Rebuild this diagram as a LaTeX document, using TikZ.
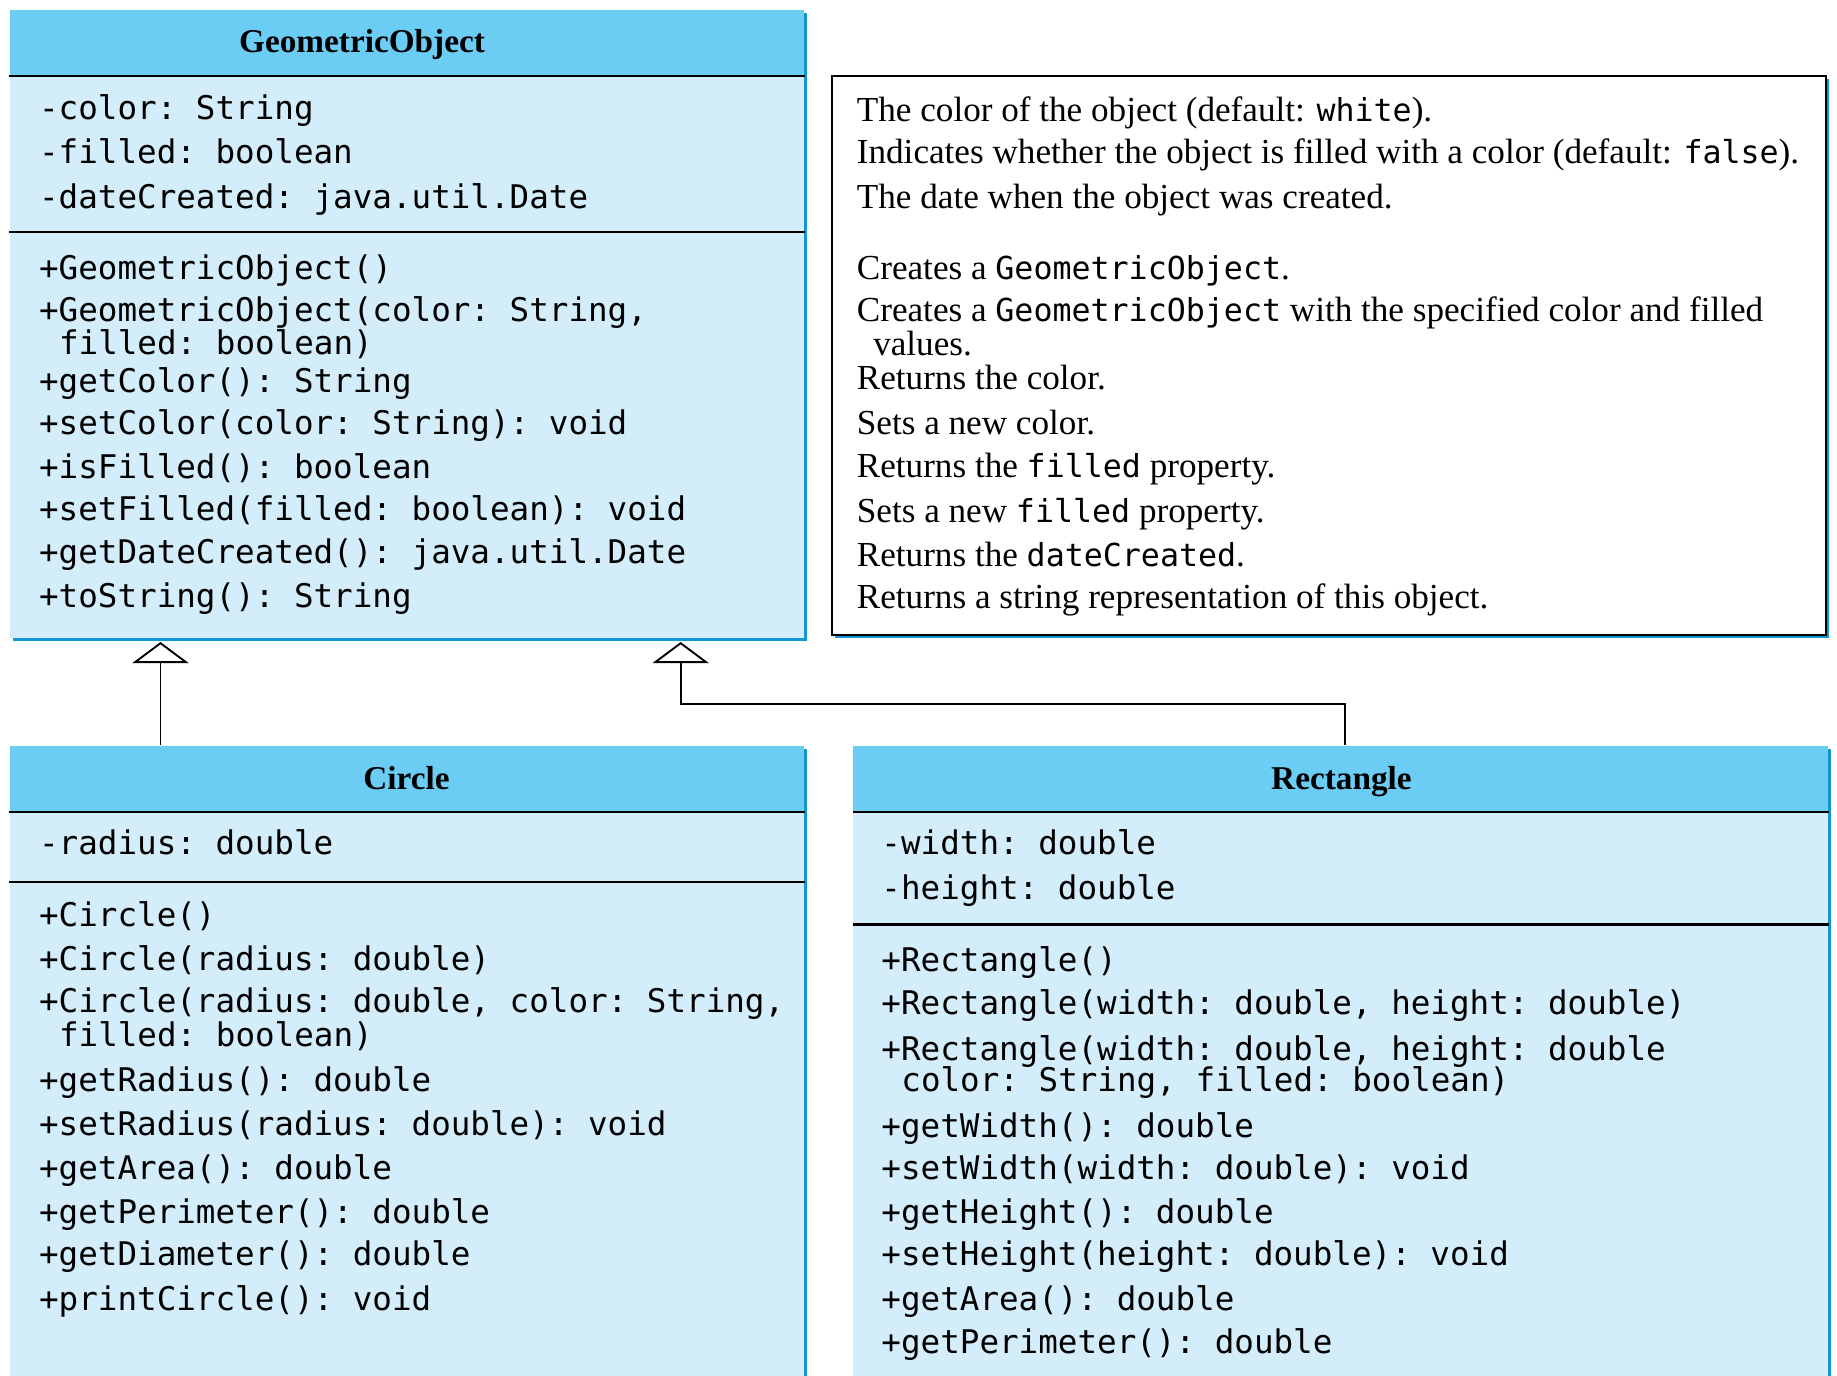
\documentclass[tikz,border=0pt]{standalone}
\usepackage{fontspec}
\setmainfont{Liberation Serif}
\setmonofont{DejaVu Sans Mono}
\usetikzlibrary{arrows.meta,shadows}
\definecolor{hdr}{RGB}{107,205,243}
\definecolor{bdy}{RGB}{211,237,250}
\definecolor{shd}{RGB}{20,150,210}
\newcommand{\inlinemono}[1]{{\fontsize{13.5}{16}\selectfont\ttfamily #1}}
\tikzset{
 boxbody/.style={fill=bdy, draw=none, inner sep=0pt, anchor=north west,
   general shadow={fill=shd, shadow xshift=1.3pt, shadow yshift=-1.3pt}},
 boxhead/.style={fill=hdr, draw=none, inner sep=0pt, anchor=north west},
 sepline/.style={line width=1pt, black},
 mono/.style={font=\fontsize{13.9}{16}\selectfont\ttfamily, inner sep=0pt, anchor=mid west, yshift=-2.5pt},
 desc/.style={font=\fontsize{15}{18}\selectfont, inner sep=0pt, anchor=mid west, yshift=-2.5pt},
 ttl/.style={font=\fontsize{14.2}{17}\selectfont\bfseries, inner sep=0pt, anchor=mid, yshift=-2pt},
 inh/.style={line width=0.8pt, -{Triangle[open, length=9pt, width=24pt, fill=white]}}
}
\begin{document}
\begin{tikzpicture}[x=0.5pt,y=-0.5pt]
\useasboundingbox (0,0) rectangle (1568,1174);
\clip (0,0) rectangle (1568,1174);
% GeometricObject
\node[boxbody, minimum width=339pt, minimum height=268pt] (geo) at (8,8) {};
\node[boxhead, minimum width=339pt, minimum height=28pt] (geoH) at (8,8) {};
\draw[sepline] (geoH.south west) -- (geoH.south east);
\draw[sepline] (geo.west |- 0,198) -- (geo.east |- 0,198);
\node[ttl] (geoT) at (309,36) {GeometricObject};
\foreach \y/\t [count=\i] in {92/{-color: String},130/{-filled: boolean},168/{-dateCreated: java.util.Date}}
  \node[mono] (ga\i) at (33,\y) {\t};
\foreach \x/\y/\t [count=\i] in {33/229/{+GeometricObject()},33/265/{+GeometricObject(color: String,},50/293/{filled: boolean)},33/325/{+getColor(): String},33/361/{+setColor(color: String): void},33/399/{+isFilled(): boolean},33/435/{+setFilled(filled: boolean): void},33/471/{+getDateCreated(): java.util.Date},33/509/{+toString(): String}}
  \node[mono] (gm\i) at (\x,\y) {\t};
% note
\node[draw, line width=0.8pt, fill=white, inner sep=0pt, anchor=north west,
  general shadow={fill=shd, shadow xshift=1.3pt, shadow yshift=-1.3pt},
  minimum width=424.5pt, minimum height=238.5pt] (note) at (709,64) {};
\foreach \x/\y/\t [count=\i] in {731/94/{The color of the object (default: \inlinemono{white}).},731/130/{Indicates whether the object is filled with a color (default: \inlinemono{false}).},731/168/{The date when the object was created.},731/229/{Creates a \inlinemono{GeometricObject}.},731/265/{Creates a \inlinemono{GeometricObject} with the specified color and filled},745/294/{values.},731/323/{Returns the color.},731/361/{Sets a new color.},731/398/{Returns the \inlinemono{filled} property.},731/436/{Sets a new \inlinemono{filled} property.},731/474/{Returns the \inlinemono{dateCreated}.},731/510/{Returns a string representation of this object.}}
  \node[desc] (nt\i) at (\x,\y) {\t};
% Circle
\node[boxbody, minimum width=339pt, minimum height=290pt] (circ) at (8,636) {};
\node[boxhead, minimum width=339pt, minimum height=28pt] (circH) at (8,636) {};
\draw[sepline] (circH.south west) -- (circH.south east);
\draw[sepline] (circ.west |- 0,753) -- (circ.east |- 0,753);
\node[ttl] (circT) at (347,665) {Circle};
\node[mono] (ca1) at (33,720) {-radius: double};
\foreach \x/\y/\t [count=\i] in {33/781/{+Circle()},33/819/{+Circle(radius: double)},33/855/{+Circle(radius: double, color: String,},50/884/{filled: boolean)},33/922/{+getRadius(): double},33/960/{+setRadius(radius: double): void},33/997/{+getArea(): double},33/1035/{+getPerimeter(): double},33/1071/{+getDiameter(): double},33/1109/{+printCircle(): void}}
  \node[mono] (cm\i) at (\x,\y) {\t};
% Rectangle
\node[boxbody, minimum width=416pt, minimum height=290pt] (rect) at (728,636) {};
\node[boxhead, minimum width=416pt, minimum height=28pt] (rectH) at (728,636) {};
\draw[sepline] (rectH.south west) -- (rectH.south east);
\draw[sepline] (rect.west |- 0,789) -- (rect.east |- 0,789);
\node[ttl] (rectT) at (1145,665) {Rectangle};
\node[mono] (ra1) at (752,720) {-width: double};
\node[mono] (ra2) at (752,758) {-height: double};
\foreach \x/\y/\t [count=\i] in {752/820/{+Rectangle()},752/856/{+Rectangle(width: double, height: double)},752/896/{+Rectangle(width: double, height: double},769/922/{color: String, filled: boolean)},752/961/{+getWidth(): double},752/997/{+setWidth(width: double): void},752/1035/{+getHeight(): double},752/1071/{+setHeight(height: double): void},752/1109/{+getArea(): double},752/1146/{+getPerimeter(): double}}
  \node[mono] (rm\i) at (\x,\y) {\t};
% inheritance
\coordinate (p1) at (137,548);
\coordinate (p2) at (581,601);
\coordinate (p3) at (1148,601);
\draw[inh] (circ.north -| p1) -- (p1);
\draw[inh] (rect.north -| p3) -- (p3) -- (p2) -- (p2 |- p1);
\end{tikzpicture}
\end{document}
